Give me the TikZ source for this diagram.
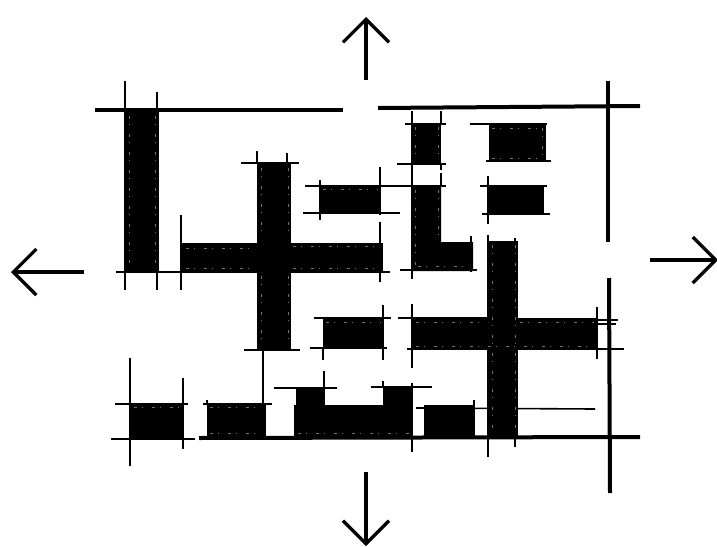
\documentclass[tikz,border=0pt]{standalone}
\usetikzlibrary{arrows.meta}
\tikzset{
wallblock/.style={
  fill=black
},
wallline/.style={
  draw=black,
  line width=4pt
},
tickline/.style={
  draw=black,
  line width=2.8pt
},
thinline/.style={
  draw=black,
  line width=1.6pt
},
scratchline/.style={
  draw=black!55,
  line width=0.5pt,
  dash pattern=on 3pt off 5pt on 1pt off 9pt
},
dirarrow/.style={
  -{Straight Barb[length=23pt,width=46pt,line width=3.2pt]},
  draw=black,
  line width=3.2pt
}
}

\begin{document}
\begin{tikzpicture}[x=1pt,y=-1pt]
\useasboundingbox (0,0) rectangle (717,546);

% direction arrows
\coordinate (ntail) at (366,80);
\coordinate (nhead) at (366,17);
\coordinate (stail) at (366,472);
\coordinate (shead) at (366,546);
\coordinate (wtail) at (84,272);
\coordinate (whead) at (11,272);
\coordinate (etail) at (650,260);
\coordinate (ehead) at (718,260);
\draw[dirarrow] (ntail) -- (nhead);
\draw[dirarrow] (stail) -- (shead);
\draw[dirarrow] (wtail) -- (whead);
\draw[dirarrow] (etail) -- (ehead);

% outer walls
\draw[wallline] (95,110) -- (343,110);
\draw[wallline] (378,108) -- (640,106);
\draw[wallline] (199,438) -- (640,437);
\draw[wallline] (608,81) -- (608,242);
\draw[wallline] (609,278) -- (610,493);

% solid blocks
\fill[wallblock] (124,112) rectangle (159,272);
\fill[wallblock] (180,243) rectangle (383,272);
\fill[wallblock] (257,163) rectangle (291,350);
\fill[wallblock] (320,186) rectangle (381,213);
\fill[wallblock] (411,124) rectangle (441,164);
\fill[wallblock] (411,186) -- (441,186) -- (441,242) -- (473,242) -- (473,271) -- (411,271) -- cycle;
\fill[wallblock] (489,125) rectangle (546,161);
\fill[wallblock] (488,187) rectangle (544,214);
\fill[wallblock] (488,241) rectangle (518,437);
\fill[wallblock] (412,318) rectangle (597,349);
\fill[wallblock] (323,318) rectangle (384,348);
\fill[wallblock] (130,404) rectangle (184,439);
\fill[wallblock] (207,404) rectangle (266,437);
\fill[wallblock] (294,405) rectangle (412,437);
\fill[wallblock] (296,388) rectangle (324,405);
\fill[wallblock] (383,388) rectangle (412,405);
\fill[wallblock] (424,405) rectangle (475,437);

% horizontal construction lines
\foreach \y/\xa/\xb in {
  272/116/180, 272/180/390, 163/241/299, 350/244/300, 186/305/388, 213/303/400,
  124/405/446, 164/397/446, 186/405/446, 270/400/477, 124/470/547, 161/486/551,
  186/480/547, 214/482/550, 318/398/497, 349/407/624, 318/314/391, 348/310/387,
  404/115/188, 439/111/195, 404/203/272, 388/274/337, 387/371/432}
  \draw[tickline] (\xa,\y) -- (\xb,\y);

% vertical construction lines
\foreach \x/\ya/\yb in {
  125/81/112, 125/272/290, 181/215/290, 257/151/163, 287/153/163, 320/180/220,
  380/167/215, 380/222/282, 412/164/186, 412/271/279, 441/111/124, 441/164/170,
  441/173/186, 471/236/272, 488/176/224, 488/235/457, 515/238/447, 412/304/368,
  597/307/359, 323/348/360, 383/305/360, 130/358/466, 183/378/449, 207/400/405,
  324/371/405, 383/381/388, 412/383/452, 474/400/405, 263/350/405}
  \draw[tickline] (\x,\ya) -- (\x,\yb);

% lighter lines
\draw[thinline] (157,92) -- (157,112);
\draw[thinline] (157,272) -- (157,290);
\draw[thinline] (412,111) -- (412,124);
\draw[thinline] (381,186) -- (405,186);
\draw[thinline] (597,320) -- (618,320);
\draw[thinline] (597,324) -- (616,324);
\draw[thinline] (416,408) -- (595,409);

% scratches along the block edges
\foreach \xa/\ya/\xb/\yb in {
  129/116/129/268, 155/116/155/268, 186/248/255/248, 186/268/255/268, 293/246/380/246,
  293/268/378/268, 261/168/261/240, 288/168/288/240, 261/276/261/345, 288/276/288/345,
  323/189/378/189, 415/127/415/160, 438/127/438/160, 415/190/415/266, 438/190/438/240,
  418/266/470/266, 492/128/544/128, 542/128/542/158, 492/158/544/158, 492/245/492/432,
  515/245/515/432, 416/322/488/322, 416/346/594/346, 520/322/594/322, 326/322/381/322,
  134/407/181/407, 210/407/264/407, 210/433/264/433, 298/433/410/433}
  \draw[scratchline] (\xa,\ya) -- (\xb,\yb);

\end{tikzpicture}
\end{document}
